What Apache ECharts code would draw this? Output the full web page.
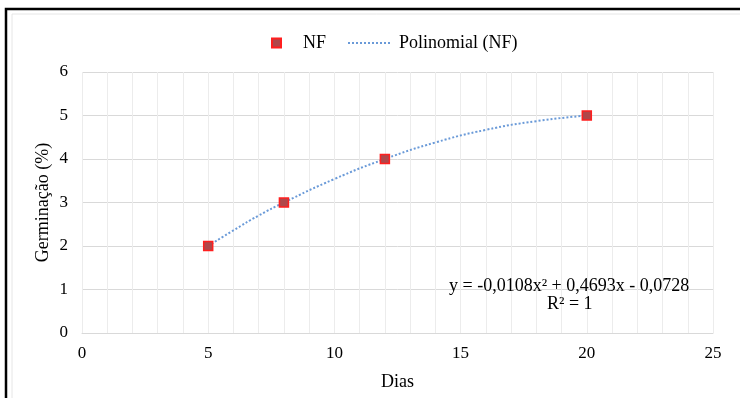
<!DOCTYPE html>
<html>
<head>
<meta charset="utf-8">
<script src="https://cdn.jsdelivr.net/npm/echarts@6/dist/echarts.min.js"></script>
<style>
  html, body { margin: 0; padding: 0; background: #fff; }
  #chart { width: 740px; height: 398px; }
</style>
</head>
<body>
<div id="chart"></div>
<script>
// dias e germinação observados
var dias = [5, 8, 12, 20];
var germinacao = [2, 3, 4, 5];
// linha de tendência
var trendX = [5, 6, 7, 8, 10, 12, 14, 16, 18, 20];
var trendY = [2, 2.36, 2.70, 3, 3.54, 4, 4.38, 4.67, 4.87, 5];
var equacao = 'y = -0,0108x² + 0,4693x - 0,0728';
var r2 = 'R² = 1';

var fonte = 'Liberation Serif, Times New Roman, serif';
var chart = echarts.init(document.getElementById('chart'));

var option = {
    animation: false,
    textStyle: { fontFamily: fonte },
    grid: { left: 82, right: 27, top: 72, bottom: 65, containLabel: false },
    legend: [{
        data: ['NF'],
        left: 266, top: 29,
        itemWidth: 9, itemHeight: 9,
        textStyle: { fontFamily: fonte, fontSize: 18, color: '#000', padding: [0, 0, 0, 17] }
    }, {
        data: ['Polinomial (NF)'],
        left: 342, top: 29,
        itemWidth: 44, itemHeight: 10,
        itemStyle: { opacity: 0 },
        textStyle: { fontFamily: fonte, fontSize: 18, color: '#000', padding: [0, 0, 0, 2] }
    }],
    xAxis: {
        type: 'value', min: 0, max: 25, interval: 5,
        name: 'Dias', nameLocation: 'middle', nameGap: 40,
        nameTextStyle: { fontFamily: fonte, fontSize: 18, color: '#000' },
        axisLine: { show: true, lineStyle: { color: '#d9d9d9', width: 1 } },
        axisTick: { show: false },
        axisLabel: { fontFamily: fonte, fontSize: 17, color: '#000', margin: 12 },
        splitLine: { show: true, lineStyle: { color: '#ececec', width: 1 } },
        minorTick: { show: false, splitNumber: 5 },
        minorSplitLine: { show: true, lineStyle: { color: '#ececec', width: 1 } }
    },
    yAxis: {
        type: 'value', min: 0, max: 6, interval: 1,
        name: 'Germinação (%)', nameLocation: 'middle', nameGap: 30,
        nameMoveOverlap: false,
        nameTextStyle: { fontFamily: fonte, fontSize: 18, color: '#000' },
        axisLine: { show: false },
        axisTick: { show: false },
        axisLabel: { fontFamily: fonte, fontSize: 17, color: '#000', margin: 14 },
        splitLine: { show: true, lineStyle: { color: '#d9d9d9', width: 1 } }
    },
    series: [{
        name: 'Polinomial (NF)',
        type: 'line',
        smooth: true,
        showSymbol: false,
        symbol: 'none',
        data: trendX.map(function (x, i) { return [x, trendY[i]]; }),
        lineStyle: { color: '#6a9ad8', width: 2, type: [2, 2] },
        itemStyle: { color: '#6a9ad8' },
        z: 2
    }, {
        name: 'NF',
        type: 'scatter',
        symbol: 'rect',
        symbolSize: 9,
        data: dias.map(function (x, i) { return [x, germinacao[i]]; }),
        itemStyle: { color: '#b0474a', borderColor: '#ff1f1f', borderWidth: 1.5, opacity: 1 },
        z: 3
    }],
    graphic: [{
        type: 'rect', z: 0, silent: true,
        shape: { x: 6, y: 9, width: 760, height: 420 },
        style: { fill: 'none', stroke: '#000', lineWidth: 2.5 }
    }, {
        type: 'rect', z: 0, silent: true,
        shape: { x: 12, y: 14, width: 760, height: 420 },
        style: { fill: 'none', stroke: '#e6e6e6', lineWidth: 1 }
    }, {
        type: 'text', z: 10, silent: true,
        left: 449, top: 277,
        style: { text: equacao, fontFamily: fonte, fontSize: 18, fill: '#000' }
    }, {
        type: 'text', z: 10, silent: true,
        left: 547, top: 295,
        style: { text: r2, fontFamily: fonte, fontSize: 18, fill: '#000' }
    }]
};

chart.setOption(option);
</script>
</body>
</html>
